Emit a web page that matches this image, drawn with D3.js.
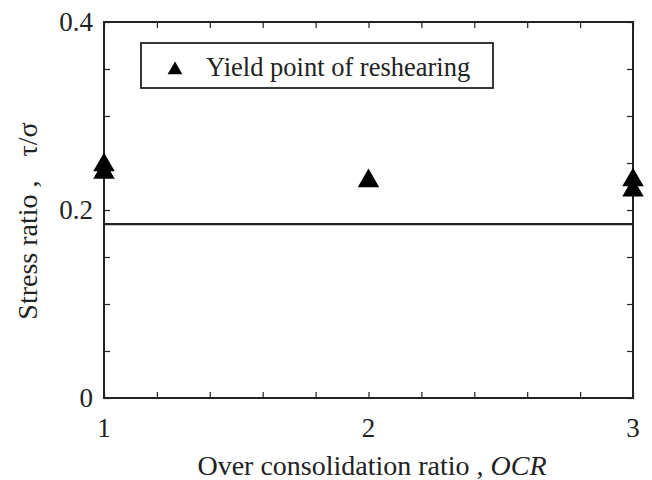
<!DOCTYPE html>
<html>
<head>
<meta charset="utf-8">
<script src="https://cdn.jsdelivr.net/npm/d3@7"></script>
<style>
  html, body { margin: 0; padding: 0; background: #fff; }
  svg text { font-family: "Liberation Serif", "Times New Roman", serif; fill: #222; }
</style>
</head>
<body>
<svg id="chart" width="652" height="480"></svg>
<script>
// Yield point of reshearing vs over-consolidation ratio
const ocrValues   = [1, 1, 2, 3, 3];
const stressRatio = [0.250, 0.242, 0.233, 0.234, 0.223];
const referenceLine = 0.185;
const xTickLabels = [1, 2, 3];
const yTickLabels = [0, 0.2, 0.4];
const legendLabel = "Yield point of reshearing";

const svg = d3.select("#chart");
const margin = { left: 104, right: 19, top: 22, bottom: 82 };
const W = 652, H = 480;

const x = d3.scaleLinear().domain([1, 3]).range([margin.left, W - margin.right]);
const y = d3.scaleLinear().domain([0, 0.4]).range([H - margin.bottom, margin.top]);

const ink = "#222";
const xMinor = d3.range(1, 3.0001, 0.2);
const yMinor = d3.range(0, 0.4001, 0.05);

// inward ticks on all four sides
const axBottom = d3.axisBottom(x).tickValues(xMinor).tickSize(-6).tickFormat("");
const axTop = d3.axisTop(x).tickValues(xMinor).tickSize(-6).tickFormat("");
const axLeft = d3.axisLeft(y).tickValues(yMinor).tickSize(-6).tickFormat("");
const axRight = d3.axisRight(y).tickValues(yMinor).tickSize(-6).tickFormat("");

function styleAxis(g) {
  g.selectAll("path").remove();
  g.selectAll("line").attr("stroke", ink).attr("stroke-width", 1.2);
}
svg.append("g").attr("transform", `translate(0,${y(0)})`).call(axBottom).call(styleAxis);
svg.append("g").attr("transform", `translate(0,${y(0.4)})`).call(axTop).call(styleAxis);
svg.append("g").attr("transform", `translate(${x(1)},0)`).call(axLeft).call(styleAxis);
svg.append("g").attr("transform", `translate(${x(3)},0)`).call(axRight).call(styleAxis);

// frame
svg.append("rect")
  .attr("x", x(1)).attr("y", y(0.4))
  .attr("width", x(3) - x(1)).attr("height", y(0) - y(0.4))
  .attr("fill", "none").attr("stroke", ink).attr("stroke-width", 2);

// tick labels
svg.append("g").selectAll("text").data(xTickLabels).join("text")
  .attr("x", d => x(d)).attr("y", y(0) + 39)
  .attr("text-anchor", "middle").attr("font-size", 27)
  .text(d => d);
svg.append("g").selectAll("text").data(yTickLabels).join("text")
  .attr("x", x(1) - 11).attr("y", d => y(d) + 9)
  .attr("text-anchor", "end").attr("font-size", 27)
  .text(d => d === 0 ? "0" : d.toFixed(1));

// horizontal reference line
svg.append("line")
  .attr("x1", x(1)).attr("x2", x(3))
  .attr("y1", y(referenceLine)).attr("y2", y(referenceLine))
  .attr("stroke", ink).attr("stroke-width", 2.2);

// data markers
const tri = d3.symbol().type(d3.symbolTriangle).size(200);
svg.append("g").selectAll("path").data(ocrValues.map((o, i) => [o, stressRatio[i]])).join("path")
  .attr("d", tri)
  .attr("transform", d => `translate(${x(d[0])},${y(d[1]) + 2})`)
  .attr("fill", "#000");

// legend
const lg = svg.append("g");
lg.append("rect").attr("x", 141).attr("y", 43).attr("width", 352).attr("height", 45)
  .attr("fill", "#fff").attr("stroke", ink).attr("stroke-width", 1.8);
lg.append("path").attr("d", d3.symbol().type(d3.symbolTriangle).size(95))
  .attr("transform", "translate(175,70)").attr("fill", "#000");
lg.append("text").attr("x", 206).attr("y", 76).attr("font-size", 26.5).text(legendLabel);

// axis titles
const xt = svg.append("text").attr("x", 372).attr("y", 475)
  .attr("text-anchor", "middle").attr("font-size", 28);
xt.append("tspan").text("Over consolidation ratio , ");
xt.append("tspan").attr("font-style", "italic").text("OCR");

const yt = svg.append("text")
  .attr("transform", `translate(37,${y(0.2) + 11}) rotate(-90)`)
  .attr("text-anchor", "middle").attr("font-size", 28);
yt.append("tspan").text("Stress ratio ,");
yt.append("tspan").attr("dx", 24).text("τ/σ");
</script>
</body>
</html>
